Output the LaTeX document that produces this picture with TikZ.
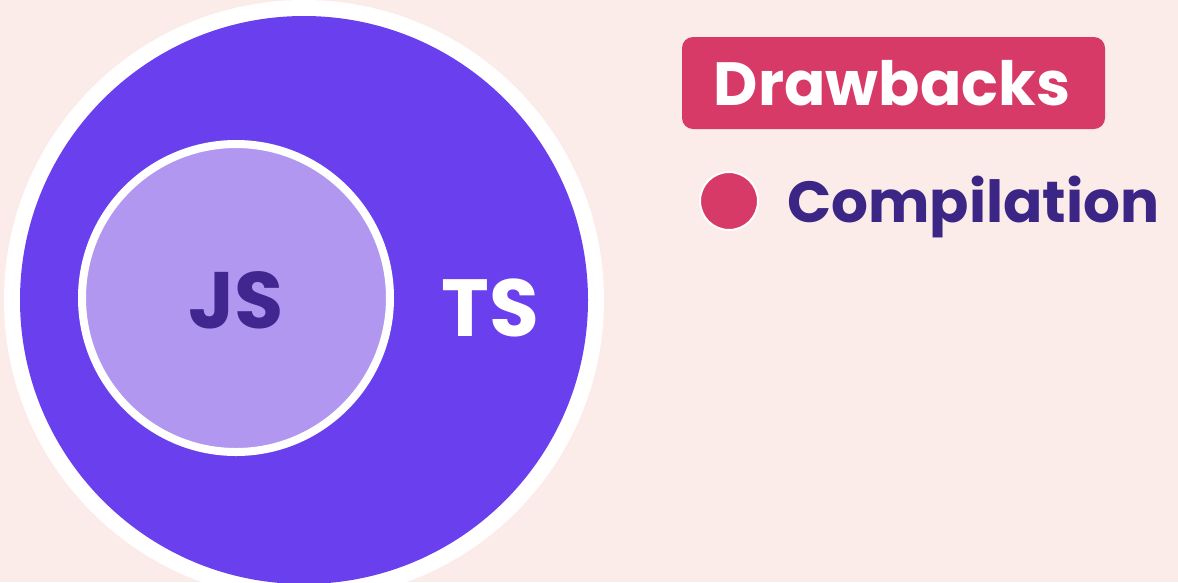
\documentclass[tikz,border=0pt]{standalone}
\usepackage{fontspec}
\newfontfamily\pop{Poppins}
\definecolor{bg}{HTML}{FBECE9}
\definecolor{tspurple}{HTML}{6A40EE}
\definecolor{jslight}{HTML}{B197F0}
\definecolor{jsdark}{HTML}{41268F}
\definecolor{boxred}{HTML}{D83A68}
\definecolor{txtdark}{HTML}{3B2585}
\begin{document}
\begin{tikzpicture}[x=1pt,y=-1pt,
  lbl/.style={inner sep=0pt, font=\pop\bfseries}]
\fill[bg] (0,0) rectangle (1178,582);
\useasboundingbox (0,0) rectangle (1178,582);
% TS circle
\fill[white] (304,300) circle (300);
\node[circle, fill=tspurple, minimum size=568pt, inner sep=0pt] (ts) at (304,300) {};
% JS circle
\node[circle, fill=jslight, draw=white, line width=8pt, minimum size=308pt, inner sep=0pt] (js) at (236,298) {};
\node[lbl, text=jsdark, font=\pop\bfseries\fontsize{80}{80}\selectfont] (jslbl) at (236,300) {JS};
\node[lbl, text=white, font=\pop\bfseries\fontsize{81}{81}\selectfont] (tslbl) at (490,308) {TS};
% Drawbacks box
\node[draw=none, fill=boxred, rounded corners=11pt, minimum width=423pt, minimum height=92pt, inner sep=0pt] (box) at (893.5,83) {};
\node[lbl, text=white, font=\pop\bfseries\fontsize{61}{61}\selectfont] (dlbl) at (892,83) {Drawbacks};
% bullet
\node[circle, fill=boxred, draw=white, line width=2pt, minimum size=58pt, inner sep=0pt] (dot) at (729,201) {};
\node[lbl, text=txtdark, anchor=base west, font=\pop\bfseries\fontsize{58}{58}\selectfont] (comp) at (787,222) {Compilation};
\end{tikzpicture}
\end{document}
